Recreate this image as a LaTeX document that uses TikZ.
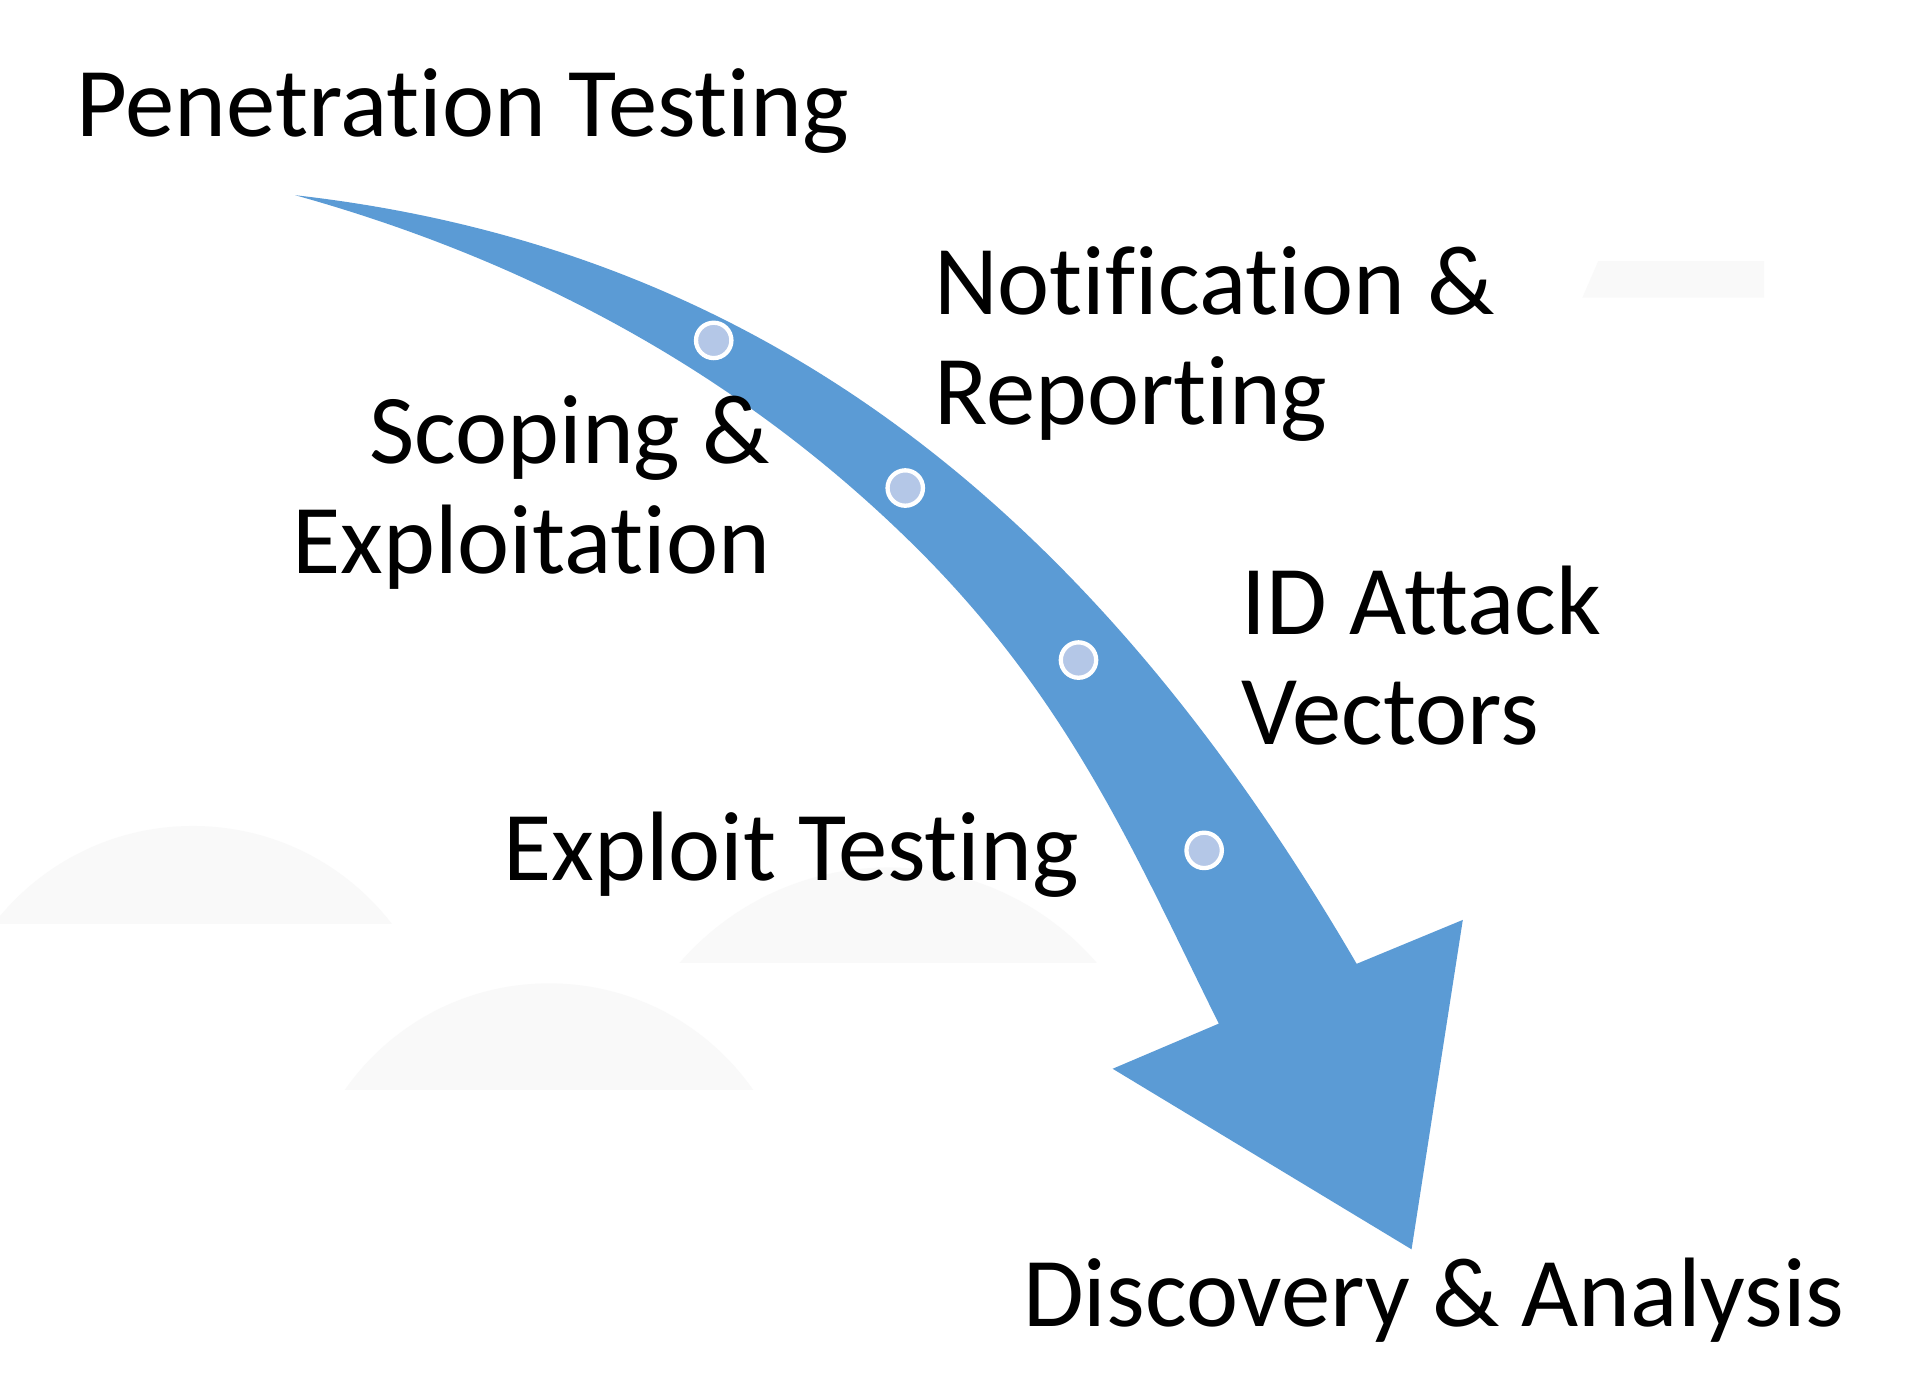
\documentclass[tikz,border=0pt]{standalone}
\usepackage{fontspec}
\setmainfont[Ligatures=NoCommon]{Carlito}
\usetikzlibrary{positioning}
\definecolor{arrcol}{RGB}{91,155,213}
\definecolor{dotcol}{RGB}{180,199,231}
\definecolor{bgcol}{RGB}{249,249,249}

\begin{document}
\begin{tikzpicture}[x=0.01cm, y=-0.01cm, lbl/.style={inner sep=0pt, font=\fontsize{23}{25.6}\selectfont}, stop/.style={circle, draw=white, line width=1pt, fill=dotcol, inner sep=0pt, minimum size=0.29cm}]
\useasboundingbox[fill=white] (0,0) rectangle (1568,1147);
\begin{scope}
\clip (0,0) rectangle (1568,757); \fill[bgcol] (158,883) circle[radius=206];
\end{scope}
\begin{scope}
\clip (0,0) rectangle (1568,893); \fill[bgcol] (450,1010) circle[radius=204];
\end{scope}
\begin{scope}
\clip (0,0) rectangle (1568,789); \fill[bgcol] (728,937) circle[radius=226];
\end{scope}
\fill[bgcol] (1310,214) -- (1446,214) -- (1446,244) -- (1297,244) -- cycle;
\fill[arrcol] (242,160) .. controls (640,205) and (905,435) .. (1112,790)
  -- (1199,754) -- (1157,1024) -- (912,876) -- (999,839)
  .. controls (930,700) and (876,570) .. (743,441) .. controls (632,333) and (472,224) .. (242,160) -- cycle;
\node[stop] (d1) at (585,279) {};
\node[stop] (d2) at (742,400) {};
\node[stop] (d3) at (884,541) {};
\node[stop] (d4) at (987,697) {};
\node[lbl, anchor=base west] (pen) at (62,112) {Penetration Testing};
\node[lbl, anchor=base west, align=left] (notif) at (765,348) {Notification \&\\Reporting};
\node[lbl, anchor=base east, align=right] (scope) at (632,470) {Scoping \&\\Exploitation};
\node[lbl, anchor=base west, align=left] (idatk) at (1017,610) {ID Attack\\Vectors};
\node[lbl, anchor=base west] (expl) at (412,722) {Exploit Testing};
\node[lbl, anchor=base west] (disc) at (838,1087) {Discovery \& Analysis};
\end{tikzpicture}
\end{document}
